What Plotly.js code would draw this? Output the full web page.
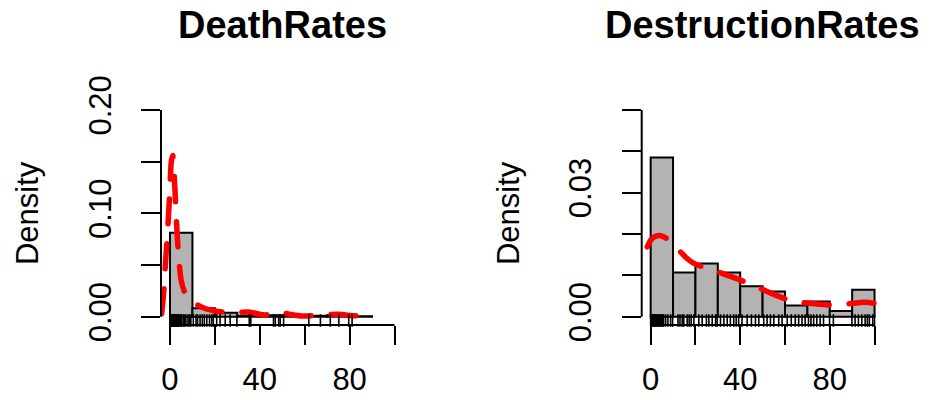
<!DOCTYPE html>
<html>
<head>
<meta charset="utf-8">
<script src="https://cdn.plot.ly/plotly-3.0.1.min.js"></script>
<style>html,body{margin:0;padding:0;background:#fff;}#chart{width:930px;height:400px;}</style>
</head>
<body>
<div id="chart"></div>
<script>
// ---- data ----
const panelTitles = ["DeathRates", "DestructionRates"];
const yLabel = "Density";
const binWidth = 10;

const deathBinStart = [0, 10, 20, 30, 40, 50, 60, 70, 80];
const deathDensity = [0.0812, 0.0081, 0.0039, 0.0010, 0.0015, 0.0005, 0.0010, 0.0015, 0.0005];

const destructionBinStart = [0, 10, 20, 30, 40, 50, 60, 70, 80, 90];
const destructionDensity = [0.0385, 0.0107, 0.0129, 0.0107, 0.0074, 0.0061, 0.0027, 0.0037, 0.0014, 0.0065];

const deathCurveX = [-3.7, -2.7, -2.2, -1.3, -0.6, 0, 0.6, 1.2, 1.8, 2.5, 3.2, 4, 5, 6.5, 8.2, 11.2, 15.6, 21.6, 25, 29.8, 35, 41.7, 45, 49.1, 53, 59.5, 65.5, 70, 75.1, 79, 83.3, 86.3];
const deathCurveY = [0.003, 0.026, 0.045, 0.075, 0.100, 0.125, 0.150, 0.156, 0.140, 0.110, 0.080, 0.055, 0.035, 0.024, 0.019, 0.013, 0.008, 0.005, 0.0042, 0.0039, 0.0046, 0.0018, 0.0028, 0.0042, 0.0025, 0.0006, 0.0016, 0.0020, 0.0023, 0.0015, 0.0008, 0.0003];

const destructionCurveX = [-1.5, 0, 2, 4.5, 8, 12.6, 16, 19.3, 25, 29.7, 36, 43.1, 52, 60.9, 67, 74.2, 80, 83.2, 90, 95, 100, 103.6];
const destructionCurveY = [0.0169, 0.0185, 0.0194, 0.0196, 0.0186, 0.0161, 0.0142, 0.0129, 0.0118, 0.0109, 0.0097, 0.0082, 0.0061, 0.0042, 0.0035, 0.0031, 0.0028, 0.0028, 0.0032, 0.0035, 0.0032, 0.0022];

const deathRug = [0, 0.1, 0.2, 0.3, 0.4, 0.5, 0.7, 0.9, 1.1, 1.3, 1.5, 1.7, 2.0, 2.2, 2.5, 2.8, 3.1, 3.4, 3.7, 4.0, 4.4, 4.8, 5.2,
  5.9, 6.5, 7.1, 8.0, 8.6, 9.3, 10.4, 11.6, 12.3, 13.4, 14.4, 15.3, 16.4, 17.6, 18.6, 19.3, 20.8, 22.3, 24.6, 26.8, 29.8,
  35.3, 36.0, 46.1, 46.9, 48.4, 49.1, 50.6, 61.8, 67.0, 71.4, 75.2, 79.6, 81.1];

const destructionRug = [0, 0.3, 0.6, 0.9, 1.2, 1.5, 1.8, 2.1, 2.4, 2.8, 3.2, 3.6, 4.0, 4.4, 4.8, 5.3, 5.8,
  6.7, 7.7, 8.9, 9.8, 12.2, 13.1, 14.1, 14.8, 16.3, 17.2, 18.1, 19.3, 21.5, 23.0, 24.9, 26.0, 27.5, 29.0, 29.7,
  31.2, 32.7, 34.2, 35.6, 37.1, 38.2, 39.3, 40.8, 43.1, 45.0, 46.8, 48.3, 50.5, 52.0, 53.5, 55.0, 57.2, 58.7,
  61.0, 62.8, 64.6, 66.1, 67.6, 69.0, 70.5, 71.6, 72.8, 74.2, 75.7, 77.2, 79.9, 81.6, 89.9, 91.3, 92.8, 94.3,
  95.8, 96.8, 97.7, 99.2, 100];

const xTickVals = [0, 20, 40, 60, 80, 100];
const xTickText = ["0", "", "40", "", "80", ""];
const deathYTickVals = [0, 0.05, 0.10, 0.15, 0.20];
const deathYTickText = ["0.00", "", "0.10", "", "0.20"];
const destructionYTickVals = [0, 0.01, 0.02, 0.03, 0.04, 0.05];
const destructionYTickText = ["0.00", "", "", "0.03", "", ""];

// ---- layout geometry ----
const W = 930, H = 400;
const FONT = "Liberation Sans, Arial, Helvetica, sans-serif";
const plotBottom = 325, plotTop = 101.7;
const yDomain = [(H - plotBottom) / H, (H - plotTop) / H];
const panels = [
  {left: 161, right: 403.5},
  {left: 641.7, right: 883.5}
];
const rugLenPx = 9;
const rugY = (rugLenPx / 2) / (plotBottom - plotTop);

function pad(lo, hi) { const d = (hi - lo) * 0.04; return [lo - d, hi + d]; }

const traces = [];
const datasets = [
  {bins: deathBinStart, dens: deathDensity, cx: deathCurveX, cy: deathCurveY, rug: deathRug, yt: deathYTickVals, ytt: deathYTickText},
  {bins: destructionBinStart, dens: destructionDensity, cx: destructionCurveX, cy: destructionCurveY, rug: destructionRug, yt: destructionYTickVals, ytt: destructionYTickText}
];

const layout = {
  width: W, height: H,
  margin: {l: 0, r: 0, t: 0, b: 0},
  paper_bgcolor: "#fff", plot_bgcolor: "rgba(0,0,0,0)",
  showlegend: false,
  font: {family: FONT, color: "#000", size: 31},
  shapes: [], annotations: []
};

datasets.forEach((d, i) => {
  const n = i + 1;
  const xa = n === 1 ? "x" : "x2";
  const ya = n === 1 ? "y" : "y2";
  const yr = n === 1 ? "y3" : "y4";
  traces.push({
    type: "bar", xaxis: xa, yaxis: ya,
    x: d.bins.map(b => b + binWidth / 2), y: d.dens, width: binWidth,
    marker: {color: "#b3b3b3", line: {color: "#000", width: 2}},
    hoverinfo: "skip"
  });
  traces.push({
    type: "scatter", mode: "lines", xaxis: xa, yaxis: ya,
    x: d.cx, y: d.cy,
    line: {color: "#ff0000", width: 5.5, dash: "25px,20px", shape: "spline", smoothing: 1},
    hoverinfo: "skip"
  });
  traces.push({
    type: "scatter", mode: "markers", xaxis: xa, yaxis: yr,
    x: d.rug, y: d.rug.map(() => rugY),
    marker: {symbol: "line-ns", size: rugLenPx, color: "#000", line: {color: "#000", width: 1.6}},
    hoverinfo: "skip", cliponaxis: false
  });

  const p = panels[i];
  const xDom = [p.left / W, p.right / W];
  const yMax = d.yt[d.yt.length - 1];
  const axisX = {
    domain: xDom, range: pad(xTickVals[0], xTickVals[xTickVals.length - 1]),
    anchor: ya, tickmode: "array", tickvals: xTickVals, ticktext: xTickText,
    ticks: "outside", ticklen: 19, tickwidth: 2, tickcolor: "#000",
    showline: false, showgrid: false, zeroline: false,
    tickfont: {family: FONT, size: 31, color: "#000"}, ticklabelstandoff: 8
  };
  const axisY = {
    domain: yDomain, range: pad(0, yMax), anchor: xa,
    tickmode: "array", tickvals: d.yt, ticktext: d.ytt, tickangle: -90,
    ticks: "outside", ticklen: 19, tickwidth: 2, tickcolor: "#000",
    showline: false, showgrid: false, zeroline: false,
    tickfont: {family: FONT, size: 31, color: "#000"}, ticklabelstandoff: 18,
    title: {text: yLabel, font: {family: FONT, size: 31, color: "#000"}, standoff: 34}
  };
  const axisRug = {domain: yDomain, range: [0, 1], overlaying: ya, anchor: xa, visible: false, fixedrange: true};
  layout[n === 1 ? "xaxis" : "xaxis2"] = axisX;
  layout[n === 1 ? "yaxis" : "yaxis2"] = axisY;
  layout[n === 1 ? "yaxis3" : "yaxis4"] = axisRug;

  // axis lines spanning first to last tick (R style)
  layout.shapes.push({type: "line", xref: xa, yref: "paper",
    x0: xTickVals[0], x1: xTickVals[xTickVals.length - 1], y0: yDomain[0], y1: yDomain[0],
    line: {color: "#000", width: 2}});
  layout.shapes.push({type: "line", xref: "paper", yref: ya,
    x0: xDom[0], x1: xDom[0], y0: d.yt[0], y1: yMax,
    line: {color: "#000", width: 2}});

  layout.annotations.push({
    text: "<b>" + panelTitles[i] + "</b>", xref: "paper", yref: "paper",
    x: (xDom[0] + xDom[1]) / 2, y: 1 - 25 / H, xanchor: "center", yanchor: "middle",
    showarrow: false, font: {family: FONT, size: 38, color: "#000"}
  });
});

Plotly.newPlot("chart", traces, layout, {staticPlot: true, displayModeBar: false}).then(gd => {
  gd.querySelectorAll(".scatterlayer .js-line").forEach(p => {
    p.style.strokeLinecap = "round";
  });
});
</script>
</body>
</html>
